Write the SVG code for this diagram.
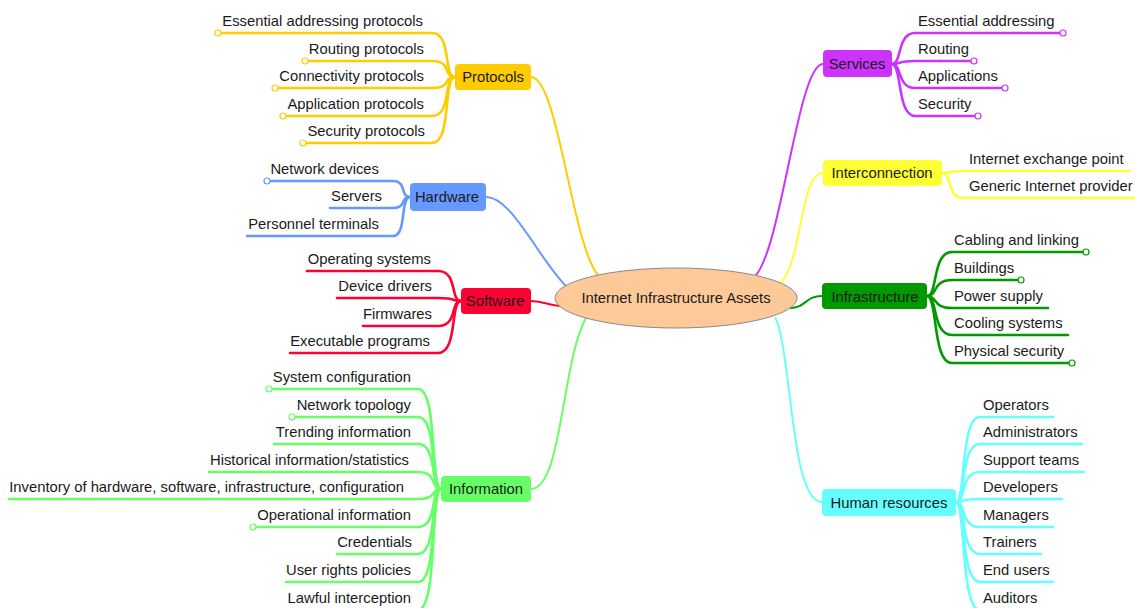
<svg xmlns="http://www.w3.org/2000/svg" width="1135" height="608" viewBox="0 0 1135 608">
  <style>
    text { font-family: "Liberation Sans", Arial, sans-serif; font-size: 14.8px; fill: #1a1a1a; }
    .lbl-l { text-anchor: end; }
    .lbl-c { text-anchor: middle; }
    .branch { fill: none; stroke-width: 2; }
    .leaf { fill: none; stroke-width: 2.6; stroke-linecap: round; }
    .end { fill: #fff; stroke-width: 1.2; }
    .proto { stroke: #FFCC00; }
    .hw { stroke: #6699FF; }
    .sw { stroke: #FF0033; }
    .info { stroke: #66FF66; }
    .svc { stroke: #CC33FF; }
    .ix { stroke: #FFFF33; }
    .infra { stroke: #009900; }
    .hr { stroke: #66FFFF; }
  </style>

  <!-- main branches from the centre topic -->
  <g id="connectors">
    <path class="branch proto" d="M531,77 C558,77 572,245 598,275"/>
    <path class="branch hw" d="M486,197 C512,197 538,258 566,286"/>
    <path class="branch sw" d="M531,301 C545,301 548,306 561,306"/>
    <path class="branch info" d="M531,489 C562,489 562,360 586,318"/>
    <path class="branch svc" d="M823,64 C798,64 782,245 756,275"/>
    <path class="branch ix" d="M823,173 C800,173 803,258 781,283"/>
    <path class="branch infra" d="M822,296 C805,296 806,308 790,308"/>
    <path class="branch hr" d="M822,502 C790,502 792,350 775,317"/>
  </g>

  <!-- centre topic -->
  <g id="root">
    <ellipse cx="676" cy="298" rx="121" ry="30" fill="#FDC998" stroke="#8a8a8a" stroke-width="1"/>
    <text class="lbl-c" x="676" y="303">Internet Infrastructure Assets</text>
  </g>

  <!-- Protocols -->
  <g id="protocols">
    <path class="leaf proto" d="M455,77 C443,77 452,33 432,33 H218"/>
    <path class="leaf proto" d="M455,77 C443,77 452,61 432,61 H305"/>
    <path class="leaf proto" d="M455,77 C443,77 452,88 432,88 H275"/>
    <path class="leaf proto" d="M455,77 C443,77 452,116 432,116 H283"/>
    <path class="leaf proto" d="M455,77 C443,77 452,143 432,143 H303"/>
    <circle class="end proto" cx="218" cy="33" r="3"/>
    <circle class="end proto" cx="305" cy="61" r="3"/>
    <circle class="end proto" cx="275" cy="88" r="3"/>
    <circle class="end proto" cx="283" cy="116" r="3"/>
    <circle class="end proto" cx="303" cy="143" r="3"/>
    <rect x="455" y="64" width="76" height="26" rx="4" fill="#FFCC00"/>
    <text class="lbl-c" x="493" y="82">Protocols</text>
    <text class="lbl-l" x="423" y="26">Essential addressing protocols</text>
    <text class="lbl-l" x="424" y="54">Routing protocols</text>
    <text class="lbl-l" x="424" y="81">Connectivity protocols</text>
    <text class="lbl-l" x="424" y="109">Application protocols</text>
    <text class="lbl-l" x="425" y="136">Security protocols</text>
  </g>

  <!-- Hardware -->
  <g id="hardware">
    <path class="leaf hw" d="M410,197 C400,197 407,181 393,181 H267"/>
    <path class="leaf hw" d="M410,197 C400,197 407,208 393,208 H330"/>
    <path class="leaf hw" d="M410,197 C400,197 407,236 393,236 H247"/>
    <circle class="end hw" cx="267" cy="181" r="3"/>
    <rect x="410" y="183" width="76" height="28" rx="4" fill="#6699FF"/>
    <text class="lbl-c" x="447" y="202">Hardware</text>
    <text class="lbl-l" x="379" y="174">Network devices</text>
    <text class="lbl-l" x="382" y="201">Servers</text>
    <text class="lbl-l" x="379" y="229">Personnel terminals</text>
  </g>

  <!-- Software -->
  <g id="software">
    <path class="leaf sw" d="M461,301 C450,301 458,271 438,271 H307"/>
    <path class="leaf sw" d="M461,301 C450,301 458,298 438,298 H337"/>
    <path class="leaf sw" d="M461,301 C450,301 458,326 438,326 H363"/>
    <path class="leaf sw" d="M461,301 C450,301 458,353 438,353 H290"/>
    <rect x="461" y="288" width="70" height="26" rx="4" fill="#FF0033"/>
    <text class="lbl-c" x="495" y="306">Software</text>
    <text class="lbl-l" x="431" y="264">Operating systems</text>
    <text class="lbl-l" x="432" y="291">Device drivers</text>
    <text class="lbl-l" x="432" y="319">Firmwares</text>
    <text class="lbl-l" x="430" y="346">Executable programs</text>
  </g>

  <!-- Information -->
  <g id="information">
    <path class="leaf info" d="M441,489 C430,489 438,389 418,389 H269"/>
    <path class="leaf info" d="M441,489 C430,489 438,417 418,417 H292"/>
    <path class="leaf info" d="M441,489 C430,489 438,444 418,444 H274"/>
    <path class="leaf info" d="M441,489 C430,489 438,472 418,472 H209"/>
    <path class="leaf info" d="M441,489 C430,489 438,499 418,499 H9"/>
    <path class="leaf info" d="M441,489 C430,489 438,527 418,527 H253"/>
    <path class="leaf info" d="M441,489 C430,489 438,554 418,554 H337"/>
    <path class="leaf info" d="M441,489 C430,489 438,582 418,582 H286"/>
    <path class="leaf info" d="M441,489 C430,489 438,610 418,610 H280"/>
    <circle class="end info" cx="269" cy="389" r="3"/>
    <circle class="end info" cx="292" cy="417" r="3"/>
    <circle class="end info" cx="253" cy="527" r="3"/>
    <rect x="441" y="476" width="90" height="26" rx="4" fill="#66FF66"/>
    <text class="lbl-c" x="486" y="494">Information</text>
    <text class="lbl-l" x="411" y="382">System configuration</text>
    <text class="lbl-l" x="411" y="410">Network topology</text>
    <text class="lbl-l" x="411" y="437">Trending information</text>
    <text class="lbl-l" x="409" y="465">Historical information/statistics</text>
    <text class="lbl-l" x="404" y="492">Inventory of hardware, software, infrastructure, configuration</text>
    <text class="lbl-l" x="411" y="520">Operational information</text>
    <text class="lbl-l" x="412" y="547">Credentials</text>
    <text class="lbl-l" x="411" y="575">User rights policies</text>
    <text class="lbl-l" x="411" y="603">Lawful interception</text>
  </g>

  <!-- Services -->
  <g id="services">
    <path class="leaf svc" d="M892,64 C902,64 897,33 915,33 H1063"/>
    <path class="leaf svc" d="M892,64 C902,64 897,61 915,61 H974"/>
    <path class="leaf svc" d="M892,64 C902,64 897,88 915,88 H1005"/>
    <path class="leaf svc" d="M892,64 C902,64 897,116 915,116 H978"/>
    <circle class="end svc" cx="1063" cy="33" r="3"/>
    <circle class="end svc" cx="974" cy="61" r="3"/>
    <circle class="end svc" cx="1005" cy="88" r="3"/>
    <circle class="end svc" cx="978" cy="116" r="3"/>
    <rect x="823" y="50" width="69" height="27" rx="4" fill="#CC33FF"/>
    <text class="lbl-c" x="857" y="69">Services</text>
    <text x="918" y="26">Essential addressing</text>
    <text x="918" y="54">Routing</text>
    <text x="918" y="81">Applications</text>
    <text x="918" y="109">Security</text>
  </g>

  <!-- Interconnection -->
  <g id="interconnection">
    <path class="leaf ix" d="M942,173 C952,173 947,171 963,171 H1130"/>
    <path class="leaf ix" d="M942,173 C952,173 947,198 963,198 H1136"/>
    <rect x="823" y="160" width="119" height="26" rx="4" fill="#FFFF33"/>
    <text class="lbl-c" x="882" y="178">Interconnection</text>
    <text x="969" y="164">Internet exchange point</text>
    <text x="969" y="191">Generic Internet provider</text>
  </g>

  <!-- Infrastructure -->
  <g id="infrastructure">
    <path class="leaf infra" d="M927,296 C938,296 932,252 952,252 H1086"/>
    <path class="leaf infra" d="M927,296 C938,296 932,280 952,280 H1021"/>
    <path class="leaf infra" d="M927,296 C938,296 932,308 952,308 H1048"/>
    <path class="leaf infra" d="M927,296 C938,296 932,335 952,335 H1068"/>
    <path class="leaf infra" d="M927,296 C938,296 932,363 952,363 H1072"/>
    <circle class="end infra" cx="1086" cy="252" r="3"/>
    <circle class="end infra" cx="1021" cy="280" r="3"/>
    <circle class="end infra" cx="1072" cy="363" r="3"/>
    <rect x="822" y="283" width="105" height="26" rx="4" fill="#009900"/>
    <text class="lbl-c" x="875" y="302">Infrastructure</text>
    <text x="954" y="245">Cabling and linking</text>
    <text x="954" y="273">Buildings</text>
    <text x="954" y="301">Power supply</text>
    <text x="954" y="328">Cooling systems</text>
    <text x="954" y="356">Physical security</text>
  </g>

  <!-- Human resources -->
  <g id="human-resources">
    <path class="leaf hr" d="M956,502 C966,502 960,417 980,417 H1053"/>
    <path class="leaf hr" d="M956,502 C966,502 960,444 980,444 H1082"/>
    <path class="leaf hr" d="M956,502 C966,502 960,472 980,472 H1084"/>
    <path class="leaf hr" d="M956,502 C966,502 960,499 980,499 H1062"/>
    <path class="leaf hr" d="M956,502 C966,502 960,527 980,527 H1053"/>
    <path class="leaf hr" d="M956,502 C966,502 960,554 980,554 H1041"/>
    <path class="leaf hr" d="M956,502 C966,502 960,582 980,582 H1053"/>
    <path class="leaf hr" d="M956,502 C966,502 960,610 980,610 H1050"/>
    <rect x="822" y="489" width="134" height="27" rx="4" fill="#66FFFF"/>
    <text class="lbl-c" x="889" y="508">Human resources</text>
    <text x="983" y="410">Operators</text>
    <text x="983" y="437">Administrators</text>
    <text x="983" y="465">Support teams</text>
    <text x="983" y="492">Developers</text>
    <text x="983" y="520">Managers</text>
    <text x="983" y="547">Trainers</text>
    <text x="983" y="575">End users</text>
    <text x="983" y="603">Auditors</text>
  </g>
</svg>
